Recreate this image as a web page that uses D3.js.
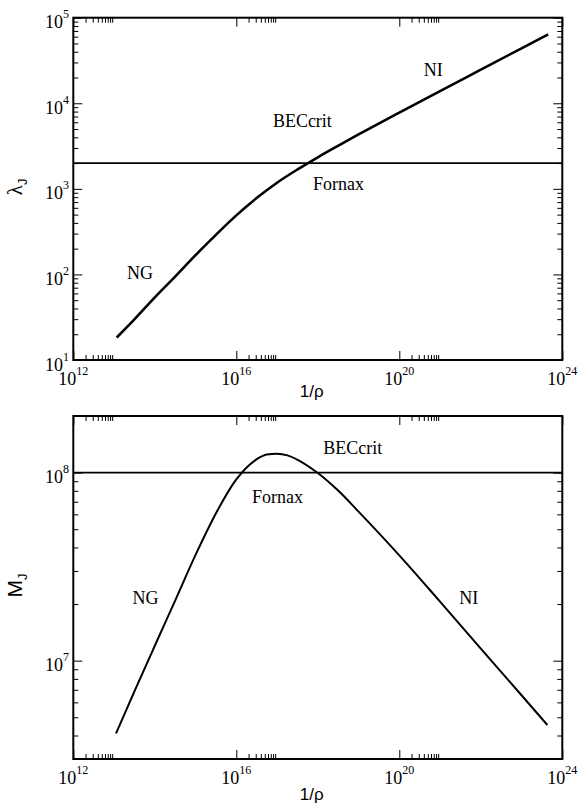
<!DOCTYPE html>
<html>
<head>
<meta charset="utf-8">
<script src="https://cdn.jsdelivr.net/npm/d3@7"></script>
<style>
  body { margin: 0; background: #fff; }
</style>
</head>
<body>
<div id="chart"></div>
<script>
// values (x is 1/rho for both panels)
const inv_rho_lambda = [1.16e13, 3.2e13, 1e14, 3.2e14, 1e15, 3.2e15, 1e16, 3.2e16, 1e17, 3.2e17, 1e18, 3.2e18, 1e19, 1e20, 1e21, 1e22, 1e23, 4.5e23];
const lambda_j       = [18.3, 30, 54, 95, 168, 292, 490, 785, 1180, 1690, 2340, 3200, 4320, 7780, 13900, 24700, 43900, 64000];

const inv_rho_mass = [1.12e13, 3.2e13, 1e14, 3.2e14, 1e15, 3.2e15, 1e16, 3.2e16, 5.6e16, 1e17, 1.8e17, 3.2e17, 1e18, 3.2e18, 1e19, 1e20, 1e21, 1e22, 1e23, 4.3e23];
const mass_j       = [4.1e6, 6.9e6, 1.2e7, 2.1e7, 3.65e7, 6.1e7, 9.2e7, 1.18e8, 1.25e8, 1.26e8, 1.235e8, 1.17e8, 9.95e7, 8.0e7, 6.2e7, 3.63e7, 2.06e7, 1.16e7, 6.55e6, 4.55e6];

const lambda_crit = 2000;
const mass_crit = 1e8;

// annotations, anchored in data units
const lambda_notes = ['NG', 'BECcrit', 'Fornax', 'NI'];
const lambda_note_x = [2.08e13, 7.9e16, 7.6e17, 4.0e20];
const lambda_note_y = [88.5, 5300, 970, 20800];

const mass_notes = ['BECcrit', 'Fornax', 'NG', 'NI'];
const mass_note_x = [1.36e18, 2.43e16, 2.84e13, 2.97e21];
const mass_note_y = [1.26e8, 6.9e7, 2.0e7, 2.0e7];

// ticks
const x_major = [1e12, 1e16, 1e20, 1e24];
const x_minor_decades = [1e12, 1e16, 1e20];
const minor_mult = [2, 3, 4, 5, 6, 7, 8, 9];
const lambda_major = [1e1, 1e2, 1e3, 1e4, 1e5];
const mass_major = [1e7, 1e8];

const width = 587, height = 808;
const margin = {left: 73.3, right: 24.7};
const SERIF = '"Liberation Serif"';
const SANS = '"Liberation Sans"';

const svg = d3.select('#chart').append('svg')
  .attr('width', width)
  .attr('height', height);

const x = d3.scaleLog()
  .domain([1e12, 1e24])
  .range([margin.left, width - margin.right]);

const x_minor = x_minor_decades.flatMap(d => minor_mult.map(k => k * d));

function exponent(v){
  return Math.round(Math.log10(v));
}

function powerLabel(sel){
  sel.each(function(d){
    const t = d3.select(this);
    t.append('tspan').text('10');
    t.append('tspan').attr('dy', -10).style('font-size', '12px').text(exponent(d));
  });
}

function drawPanel(p){
  const y = d3.scaleLog().domain(p.domain).range([p.bottom, p.top]);
  const g = svg.append('g');

  const decades = d3.range(Math.floor(Math.log10(p.domain[0])), Math.ceil(Math.log10(p.domain[1])));
  const y_minor = decades.flatMap(e => minor_mult.map(k => k * Math.pow(10, e)))
    .filter(v => v > p.domain[0] && v < p.domain[1] * 0.999);

  const noDomain = sel => sel.select('.domain').remove();

  // inward ticks on all four sides
  [[x_major, 9], [x_minor, 5]].forEach(([vals, len]) => {
    g.append('g')
      .attr('transform', `translate(0,${p.bottom})`)
      .call(d3.axisBottom(x).tickValues(vals).tickSize(-len).tickFormat(''))
      .call(noDomain);
    g.append('g')
      .attr('transform', `translate(0,${p.top})`)
      .call(d3.axisTop(x).tickValues(vals).tickSize(-len).tickFormat(''))
      .call(noDomain);
  });
  [[p.major, 9], [y_minor, 5]].forEach(([vals, len]) => {
    g.append('g')
      .attr('transform', `translate(${x.range()[0]},0)`)
      .call(d3.axisLeft(y).tickValues(vals).tickSize(-len).tickFormat(''))
      .call(noDomain);
    g.append('g')
      .attr('transform', `translate(${x.range()[1]},0)`)
      .call(d3.axisRight(y).tickValues(vals).tickSize(-len).tickFormat(''))
      .call(noDomain);
  });
  g.selectAll('.tick line').attr('stroke-width', 1);

  // frame
  g.append('rect')
    .attr('x', x.range()[0])
    .attr('y', p.top)
    .attr('width', x.range()[1] - x.range()[0])
    .attr('height', p.bottom - p.top)
    .attr('fill', 'none')
    .attr('stroke', 'black')
    .attr('stroke-width', 2);

  // tick labels 10^n
  g.selectAll('text.xlab')
    .data(x_major)
    .join('text')
    .attr('class', 'xlab')
    .attr('x', d => x(d))
    .attr('y', p.bottom + 25)
    .attr('text-anchor', 'middle')
    .style('font-family', SERIF)
    .style('font-size', '18px')
    .call(powerLabel);

  g.selectAll('text.ylab')
    .data(p.major)
    .join('text')
    .attr('class', 'ylab')
    .attr('x', 69)
    .attr('y', d => y(d) + 10.5)
    .attr('text-anchor', 'end')
    .style('font-family', SERIF)
    .style('font-size', '18px')
    .call(powerLabel);

  // critical line
  g.append('line')
    .attr('x1', x.range()[0])
    .attr('x2', x.range()[1])
    .attr('y1', y(p.crit))
    .attr('y2', y(p.crit))
    .attr('stroke', 'black')
    .attr('stroke-width', 1.6);

  // curve
  const line = d3.line()
    .x(d => x(d[0]))
    .y(d => y(d[1]))
    .curve(d3.curveMonotoneX);

  g.append('path')
    .datum(d3.zip(p.xs, p.ys))
    .attr('d', line)
    .attr('fill', 'none')
    .attr('stroke', 'black')
    .attr('stroke-width', p.curveWidth);

  // annotations
  g.selectAll('text.note')
    .data(p.notes)
    .join('text')
    .attr('class', 'note')
    .attr('x', (d, i) => x(p.noteX[i]))
    .attr('y', (d, i) => y(p.noteY[i]))
    .style('font-family', SERIF)
    .style('font-size', '18px')
    .text(d => d);

  // axis titles
  g.append('text')
    .attr('x', (x.range()[0] + x.range()[1]) / 2 - 6)
    .attr('y', p.bottom + p.xTitleOffset)
    .attr('text-anchor', 'middle')
    .style('font-family', SANS)
    .style('font-size', '17px')
    .text('1/ρ');

  const yt = g.append('text')
    .attr('transform', `translate(22,${(p.top + p.bottom) / 2 - 2}) rotate(-90)`)
    .attr('text-anchor', 'middle')
    .style('font-family', p.yTitleFont)
    .style('font-size', '21px');
  yt.append('tspan').text(p.yTitle);
  yt.append('tspan').attr('dy', 5).style('font-family', SANS).style('font-size', '13px').text('J');
}

drawPanel({
  top: 17.7, bottom: 360,
  domain: [10, 1e5],
  major: lambda_major,
  crit: lambda_crit,
  xs: inv_rho_lambda, ys: lambda_j,
  curveWidth: 2.6,
  notes: lambda_notes, noteX: lambda_note_x, noteY: lambda_note_y,
  yTitle: 'λ', yTitleFont: SERIF,
  xTitleOffset: 37
});

drawPanel({
  top: 416, bottom: 759,
  domain: [3e6, 2e8],
  major: mass_major,
  crit: mass_crit,
  xs: inv_rho_mass, ys: mass_j,
  curveWidth: 2,
  notes: mass_notes, noteX: mass_note_x, noteY: mass_note_y,
  yTitle: 'M', yTitleFont: SANS,
  xTitleOffset: 41
});
</script>
</body>
</html>
